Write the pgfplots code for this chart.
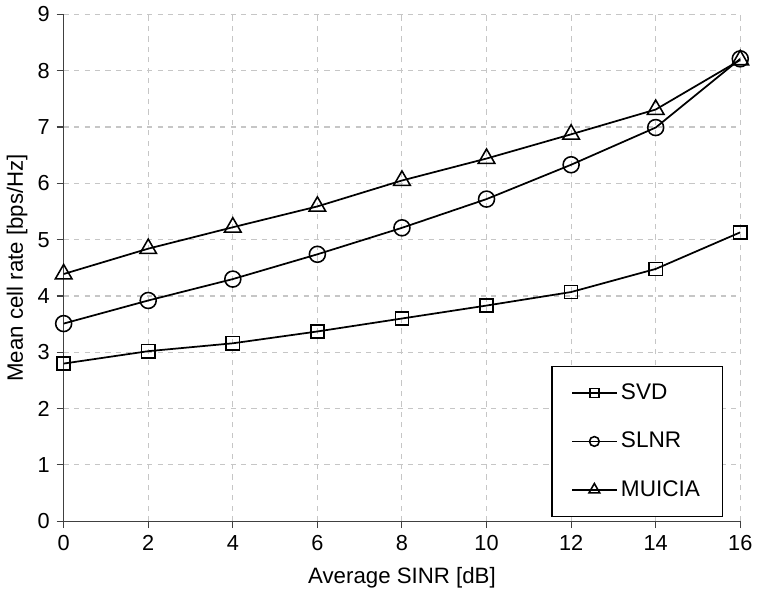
\documentclass[border=0pt]{standalone}
\usepackage{pgfplots}
\pgfplotsset{compat=1.18}
\usepackage{fontspec}
\setmainfont{Liberation Sans}
\begin{document}
\fontsize{11.5}{13.5}\selectfont
\begin{tikzpicture}
\begin{axis}[
  scale only axis,
  width=13.68cm, height=10.25cm,
  xmin=0, xmax=16, ymin=0, ymax=9,
  xtick={0,2,...,16}, ytick={0,1,...,9},
  axis x line*=bottom, axis y line*=left,
  axis line style={line width=0.8pt, black!75},
  tick style={black!75, line width=0.6pt},
  tick align=outside,
  major tick length=4pt,
  grid=major,
  grid style={dashed, gray!45, line width=0.6pt},
  /pgf/number format/assume math mode=true,
  tick label style={font=\fontsize{12.5}{14}\selectfont},
  label style={font=\fontsize{12.8}{15}\selectfont},
  xlabel={Average SINR [dB]},
  ylabel={Mean cell rate [bps/Hz]},
  xlabel style={yshift=-2pt},
  ylabel style={yshift=-2pt},
  every axis plot/.append style={black, line width=1pt, mark options={solid, fill=white, line width=0.9pt}},
  legend image code/.code={\draw[mark repeat=2, mark phase=2] plot coordinates {(0cm,0cm) (0.45cm,0cm) (0.9cm,0cm)};},
  legend style={at={(0.975,0.008)}, anchor=south east, draw=black, line width=0.8pt,
    row sep=13pt, inner xsep=11pt, inner ysep=8pt, font=\fontsize{13}{15}\selectfont,
    /tikz/every even column/.append style={column sep=4pt}},
  legend cell align=left,
]
\addplot[mark=square, mark size=3.8pt, legend image post style={mark size=2.6pt}] coordinates {
(0,2.80) (2,3.02) (4,3.16) (6,3.37) (8,3.60) (10,3.83) (12,4.07) (14,4.48) (16,5.13)};
\addlegendentry{SVD}
\addplot[mark=o, mark size=4.6pt, legend image post style={mark size=2.8pt}] coordinates {
(0,3.51) (2,3.92) (4,4.30) (6,4.74) (8,5.21) (10,5.72) (12,6.33) (14,6.99) (16,8.21)};
\addlegendentry{SLNR}
\addplot[mark=triangle, mark size=5.5pt, legend image post style={mark size=3.6pt}] coordinates {
(0,4.39) (2,4.84) (4,5.22) (6,5.59) (8,6.05) (10,6.44) (12,6.87) (14,7.31) (16,8.19)};
\addlegendentry{MUICIA}
\end{axis}
\end{tikzpicture}
\end{document}
